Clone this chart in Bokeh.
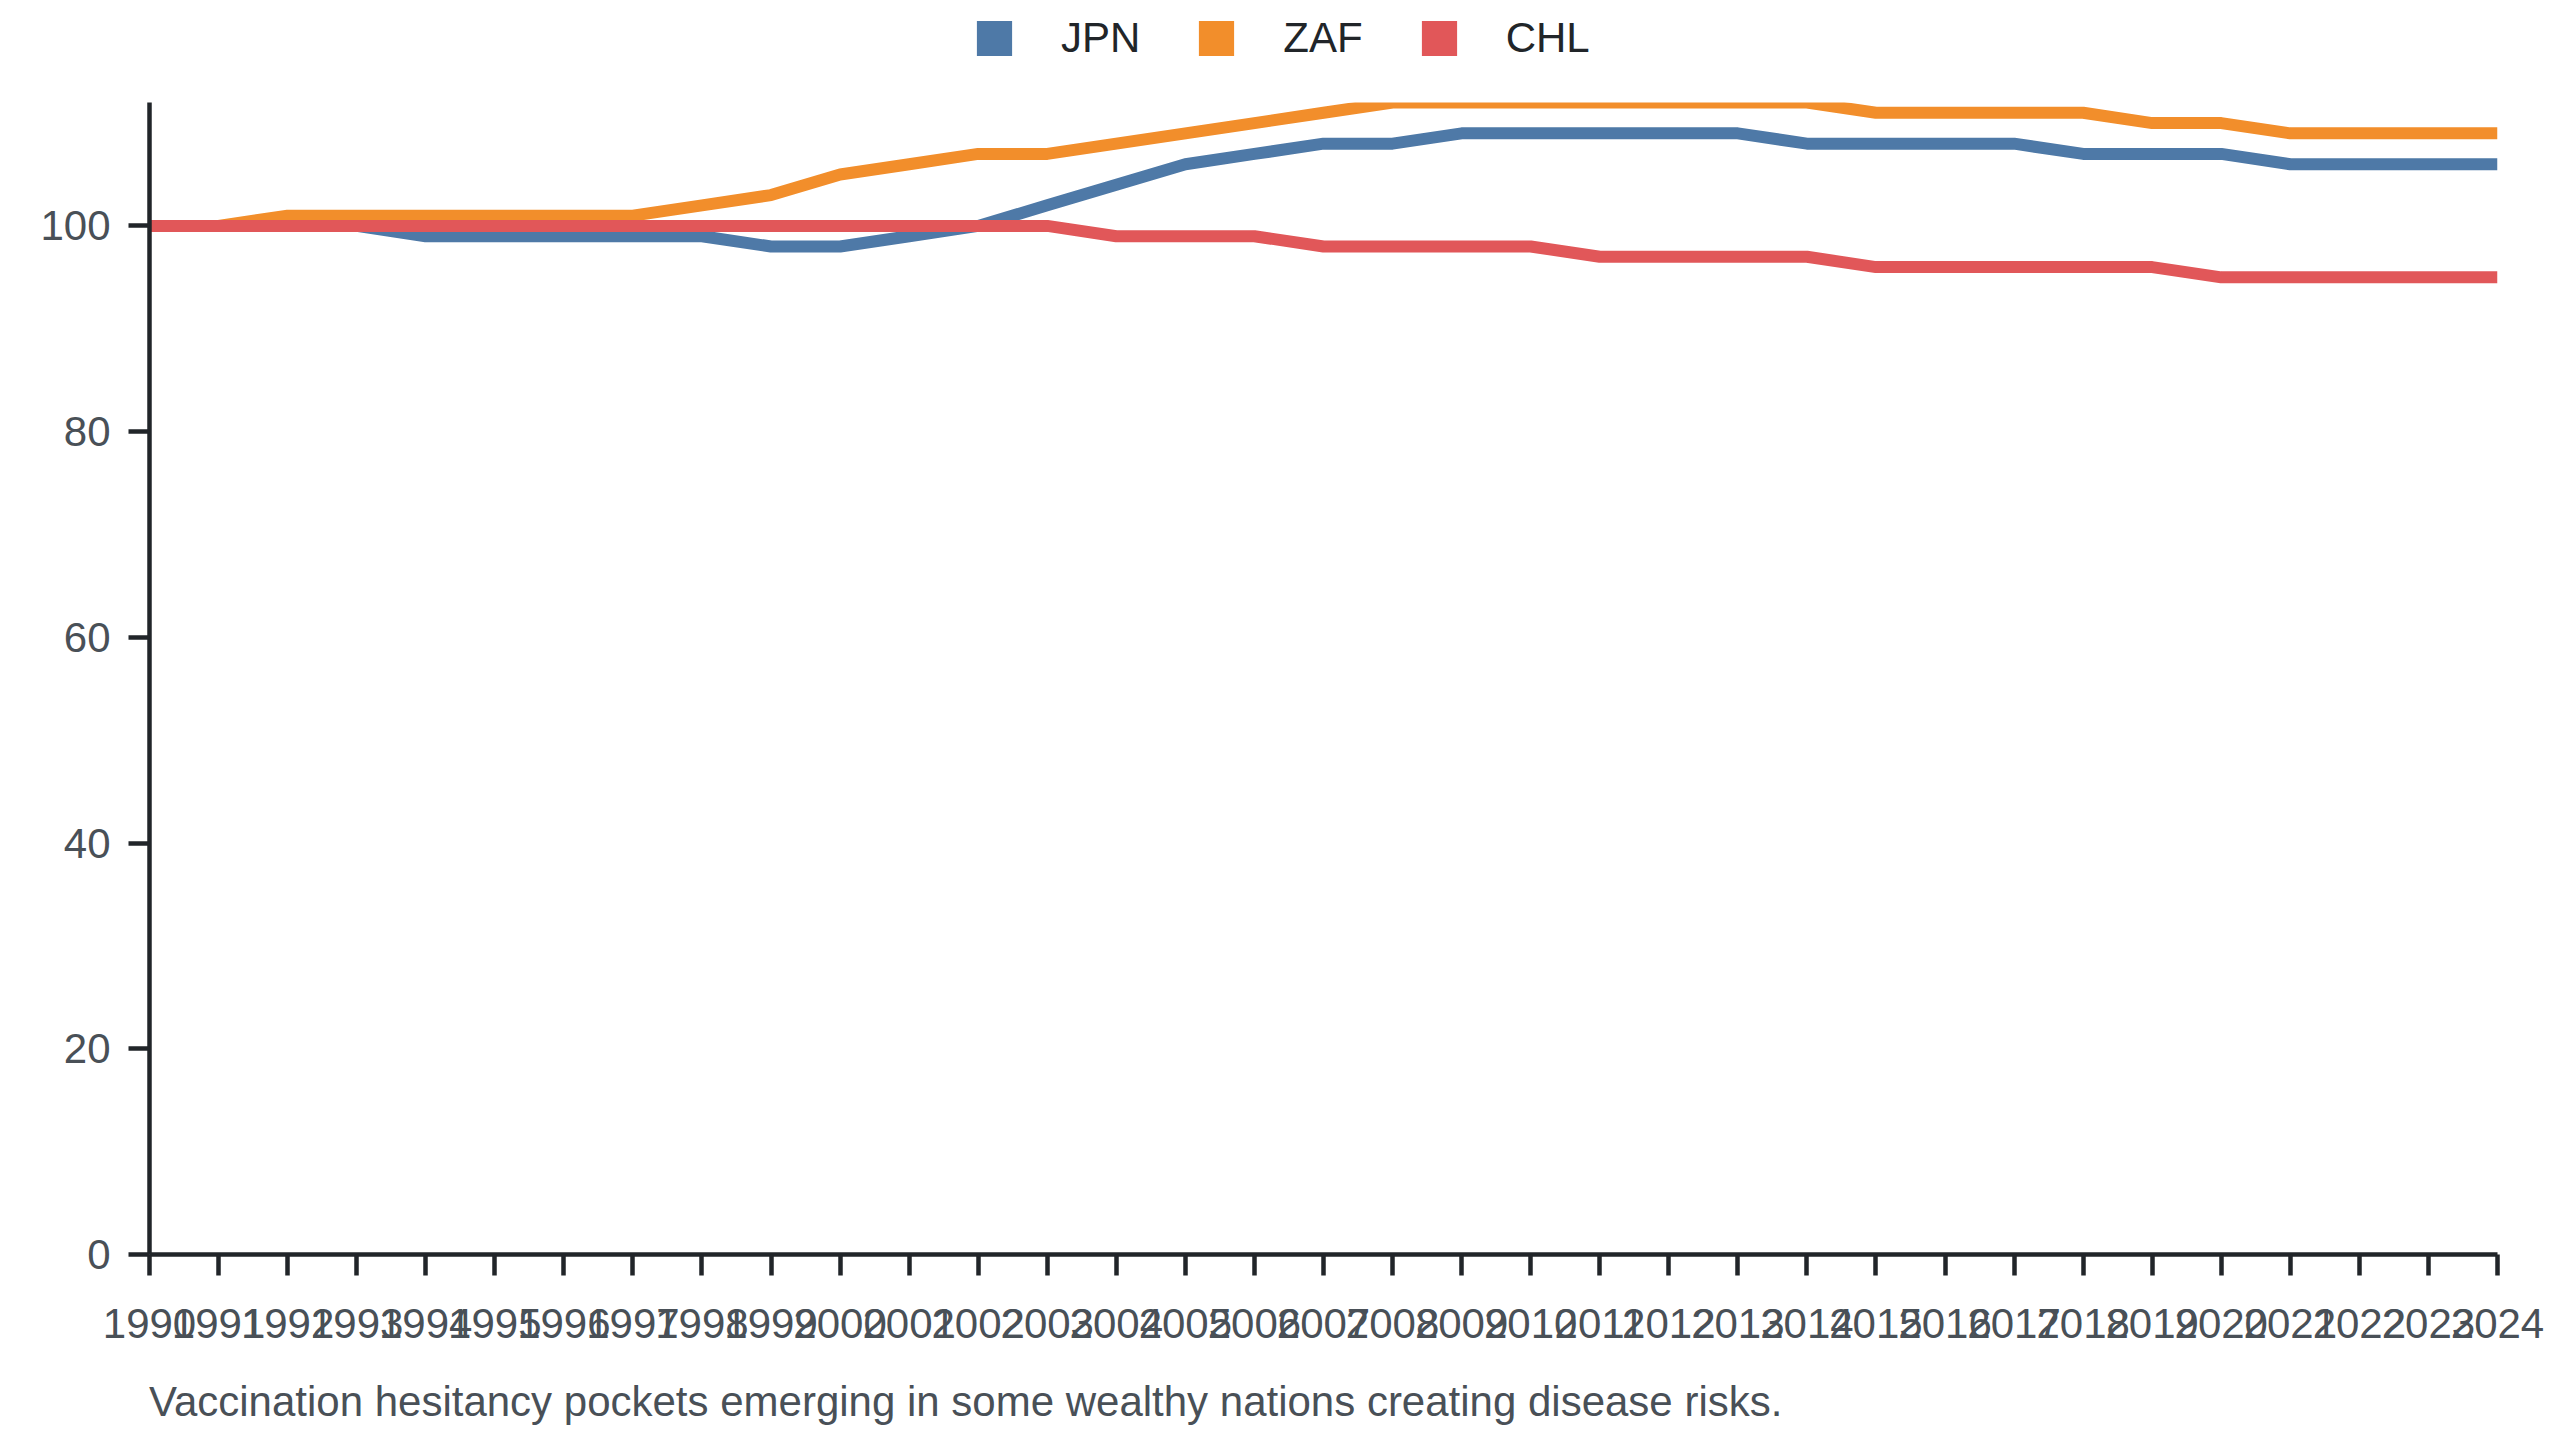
from bokeh.plotting import figure
from bokeh.layouts import column
from bokeh.models import Range1d, FixedTicker, Legend, LegendItem, Div
from bokeh.embed import file_html
from bokeh.resources import INLINE

years = list(range(1990, 2025))
jpn = [100, 100, 100, 100, 99, 99, 99, 99, 99, 98, 98, 99, 100, 102, 104, 106, 107, 108, 108,
       109, 109, 109, 109, 109, 108, 108, 108, 108, 107, 107, 107, 106, 106, 106, 106]
zaf = [100, 100, 101, 101, 101, 101, 101, 101, 102, 103, 105, 106, 107, 107, 108, 109, 110, 111, 112,
       112, 112, 112, 112, 112, 112, 111, 111, 111, 111, 110, 110, 109, 109, 109, 109]
chl = [100, 100, 100, 100, 100, 100, 100, 100, 100, 100, 100, 100, 100, 100, 99, 99, 99, 98, 98,
       98, 98, 97, 97, 97, 97, 96, 96, 96, 96, 96, 95, 95, 95, 95, 95]
series_names = ["JPN", "ZAF", "CHL"]
series_values = [jpn, zaf, chl]
colors = ["#4e79a7", "#f28e2b", "#e15759"]
y_ticks = [0, 20, 40, 60, 80, 100]
caption = "Vaccination hesitancy pockets emerging in some wealthy nations creating disease risks."

FONT = "Liberation Sans"
AXIS_COLOR = "#212529"
LABEL_COLOR = "#495057"
W = 2544
LEG_H = 76
MAIN_H = 1282
CAP_H = 1424 - LEG_H - MAIN_H
FRAME_LEFT = 149
FRAME_RIGHT_PAD = 47

# ---- legend strip ----
lf = figure(width=W, height=LEG_H, output_backend="svg", toolbar_location=None,
            x_axis_type=None, y_axis_type=None, x_range=Range1d(0, 1), y_range=Range1d(0, 1),
            min_border_left=FRAME_LEFT, min_border_right=FRAME_RIGHT_PAD,
            min_border_top=0, min_border_bottom=0)
lf.outline_line_color = None
lf.xgrid.grid_line_color = None
lf.ygrid.grid_line_color = None
items = []
for name, col in zip(series_names, colors):
    r = lf.rect(x=[float("nan")], y=[float("nan")], width=1, height=1, fill_color=col, line_color=None)
    items.append(LegendItem(label=name, renderers=[r]))
legend = Legend(items=items, orientation="horizontal", location=(823, 14),
                glyph_width=44, glyph_height=44, label_standoff=45, spacing=54,
                padding=0, margin=0, border_line_alpha=0, background_fill_alpha=0,
                label_text_font=FONT, label_text_font_size="42px", label_text_color="#212529")
lf.add_layout(legend, "center")

# ---- main chart ----
p = figure(width=W, height=MAIN_H, output_backend="svg", toolbar_location=None,
           x_range=Range1d(years[0], years[-1]), y_range=Range1d(0, 112),
           min_border_left=FRAME_LEFT, min_border_right=FRAME_RIGHT_PAD,
           min_border_top=26, min_border_bottom=104)

p.outline_line_color = None
p.xgrid.grid_line_color = None
p.ygrid.grid_line_color = None

for ax in (p.xaxis[0], p.yaxis[0]):
    ax.axis_line_color = AXIS_COLOR
    ax.axis_line_width = 4.5
    ax.major_tick_line_color = AXIS_COLOR
    ax.major_tick_line_width = 4.5
    ax.major_tick_out = 21
    ax.major_tick_in = 0
    ax.minor_tick_line_color = None
    ax.major_label_text_font = FONT
    ax.major_label_text_font_size = "42px"
    ax.major_label_text_color = LABEL_COLOR

p.xaxis[0].ticker = FixedTicker(ticks=years)
p.xaxis[0].major_label_standoff = 33
p.yaxis[0].ticker = FixedTicker(ticks=y_ticks)
p.yaxis[0].major_label_standoff = 18

for name, vals, col in zip(series_names, series_values, colors):
    p.line(years, vals, line_color=col, line_width=12, line_join="round")

# ---- caption ----
cap = Div(text=(f'<div style="padding-left:{FRAME_LEFT}px;padding-top:20px;'
                f'font-family:\'{FONT}\';font-size:42px;line-height:normal;'
                f'color:{LABEL_COLOR};white-space:nowrap">{caption}</div>'),
          width=W, height=CAP_H, margin=(0, 0, 0, 0))

open("out.html", "w").write(file_html(column(lf, p, cap, spacing=0), INLINE))
